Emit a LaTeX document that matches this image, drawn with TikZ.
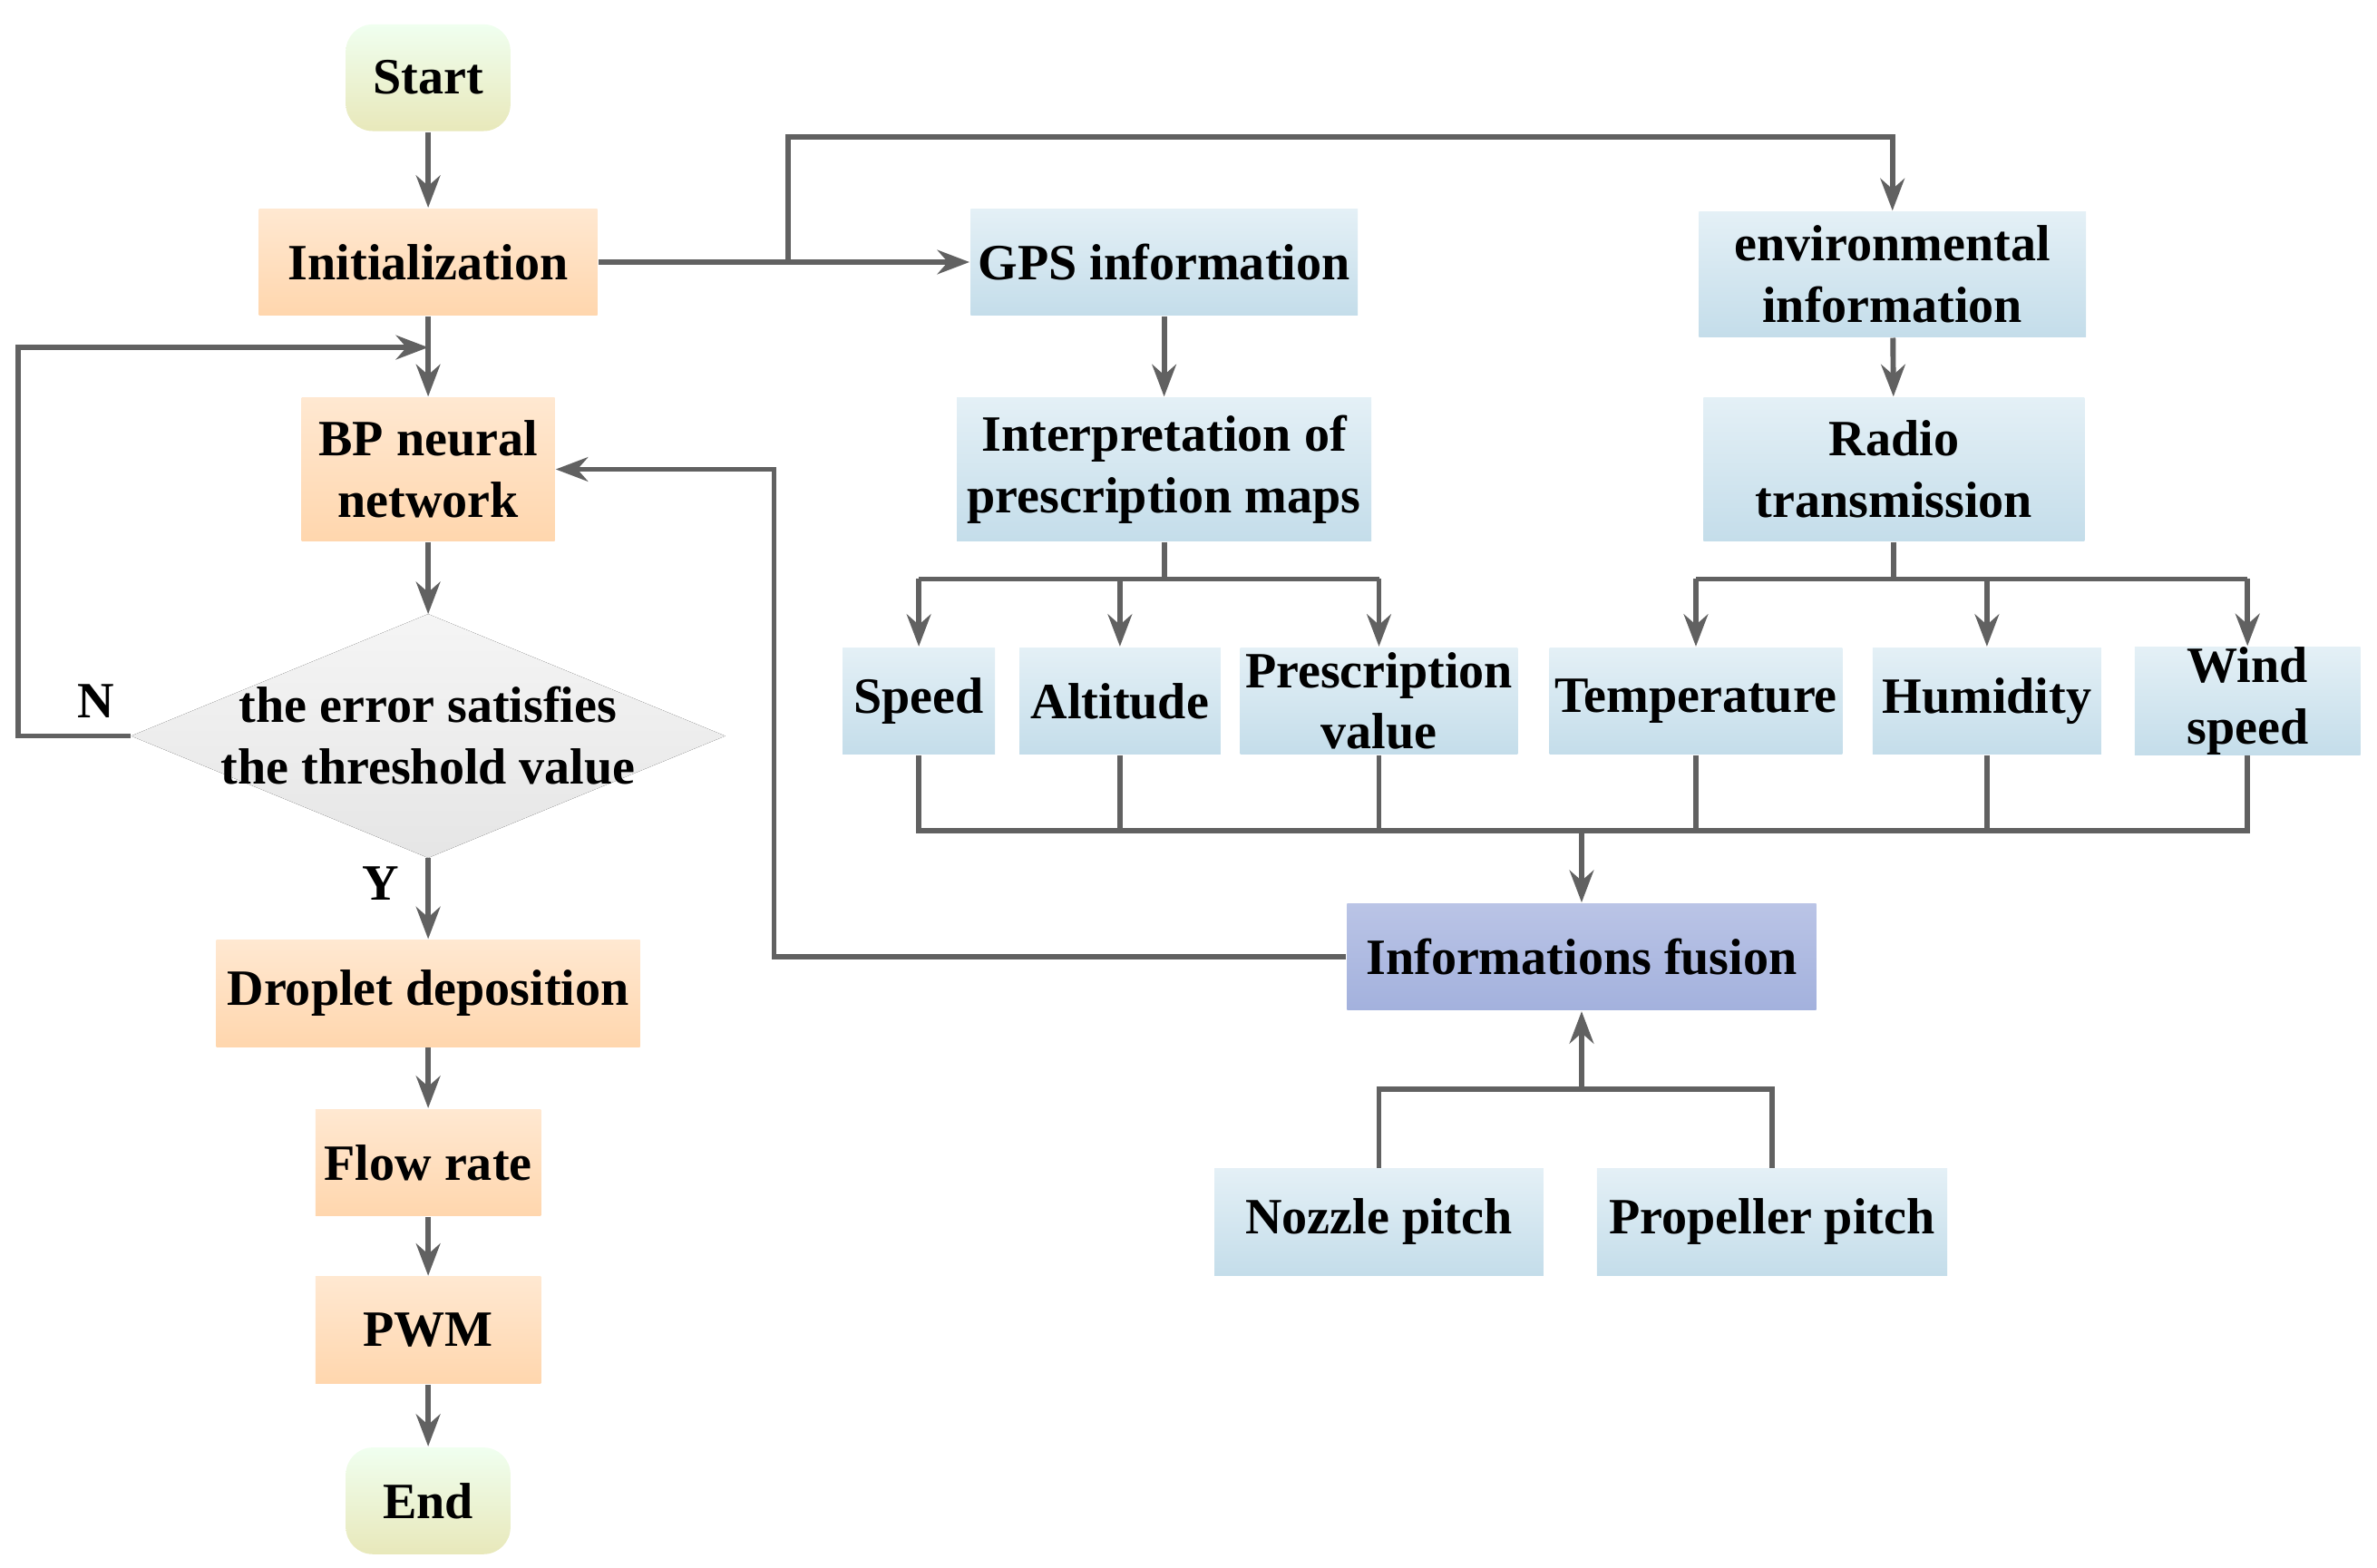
\documentclass[tikz,border=0pt]{standalone}
\usepackage{fontspec}
\setmainfont{Liberation Serif}
\usetikzlibrary{shapes.geometric,arrows.meta}
\definecolor{bl1}{HTML}{E4F0F6}
\definecolor{bl2}{HTML}{C4DDEA}
\definecolor{fu1}{HTML}{BAC4E6}
\definecolor{fu2}{HTML}{A3B1DD}
\begin{document}
\begin{tikzpicture}[x=0.1mm,y=-0.1mm,
 every node/.style={font=\bfseries\fontsize{9.5}{11.5}\selectfont,align=center,inner sep=0pt},
 org/.style={rectangle,top color=orange!18,bottom color=orange!32!white},
 blu/.style={rectangle,top color=bl1,bottom color=bl2},
 grn/.style={rectangle,rounded corners=5pt,top color=green!6!white,bottom color=olive!18!white},
 fus/.style={rectangle,top color=fu1,bottom color=fu2},
 ln/.style={draw=black!62,line width=1pt},
 ar/.style={ln,-{Stealth[length=6pt,width=4.5pt]}}]
\useasboundingbox (0,0) rectangle (1560,1029);
\newcommand{\nd}[6]{\node[#1,minimum width=#4mm,minimum height=#5mm] (#2) at (#3) {#6};}
\nd{grn}{start}{281,51}{10.8}{7}{Start}
\nd{org}{init}{281,172}{22.2}{7}{Initialization}
\nd{org}{bp}{281,308}{16.6}{9.4}{BP neural\\network}
\fill[top color=black!4,bottom color=black!10] (86,483) -- (281,403) -- (476,483) -- (281,563) -- cycle;
\node (dia) at (281,483) {the error satisfies\\the threshold value};
\coordinate (diaN) at (281,403); \coordinate (diaS) at (281,563); \coordinate (diaW) at (86,483);
\nd{org}{drop}{281,652}{27.8}{7}{Droplet deposition}
\nd{org}{flow}{281,763}{14.8}{7}{Flow rate}
\nd{org}{pwm}{281,873}{14.8}{7}{PWM}
\nd{grn}{end}{281,985}{10.8}{7}{End}
\nd{blu}{gps}{764,172}{25.4}{7}{GPS information}
\nd{blu}{env}{1242,180}{25.4}{8.2}{environmental\\information}
\nd{blu}{interp}{764,308}{27.2}{9.4}{Interpretation of\\prescription maps}
\nd{blu}{radio}{1243,308}{25}{9.4}{Radio\\transmission}
\nd{blu}{speed}{603,460}{10}{7}{Speed}
\nd{blu}{alt}{735,460}{13.2}{7}{Altitude}
\nd{blu}{pres}{905,460}{18.2}{7}{Prescription\\value}
\nd{blu}{temp}{1113,460}{19.2}{7}{Temperature}
\nd{blu}{hum}{1304,460}{15}{7}{Humidity}
\nd{blu}{wind}{1475,460}{14.8}{7}{Wind\\speed}
\nd{fus}{fus}{1038,628}{30.8}{7}{Informations fusion}
\nd{blu}{noz}{905,802}{21.6}{7}{Nozzle pitch}
\nd{blu}{prop}{1163,802}{23}{7}{Propeller pitch}
\coordinate (j) at (281,228);
\draw[ar] (start) -- (init);
\draw[ar] (init) -- (bp);
\draw[ar] (bp) -- (diaN);
\draw[ar] (diaS) -- (drop);
\node at (250,580) {Y};
\draw[ar] (drop) -- (flow);
\draw[ar] (flow) -- (pwm);
\draw[ar] (pwm) -- (end);
\draw[ar] (diaW) -- (12,483) -- (12,228) -- (j);
\node at (63,460) {N};
\draw[ar] (init) -- (gps);
\draw[ar] (517,172) -- (517,90) -- (1242,90) -- (env);
\draw[ar] (env) -- (radio);
\draw[ar] (gps) -- (interp);
\draw[ln] (interp.south) -- (764,380);
\draw[ar] (603,380) -- (speed); \draw[ar] (735,380) -- (alt); \draw[ar] (905,380) -- (pres);
\draw[ln] (603,380) -- (905,380);
\draw[ln] (radio.south) -- (1243,380);
\draw[ln] (1113,380) -- (1475,380);
\draw[ar] (1113,380) -- (temp); \draw[ar] (1304,380) -- (hum); \draw[ar] (1475,380) -- (wind);
\draw[ln] (speed) -- (603,545) -- (1475,545) -- (wind);
\draw[ln] (alt) -- (735,545); \draw[ln] (pres) -- (905,545);
\draw[ln] (temp) -- (1113,545); \draw[ln] (hum) -- (1304,545);
\draw[ar] (1038,545) -- (fus);
\draw[ar] (fus.west) -- (508,628) -- (508,308) -- (bp.east);
\draw[ln] (noz) -- (905,715) -- (1163,715) -- (prop);
\draw[ar] (1038,715) -- (fus);
\end{tikzpicture}
\end{document}
